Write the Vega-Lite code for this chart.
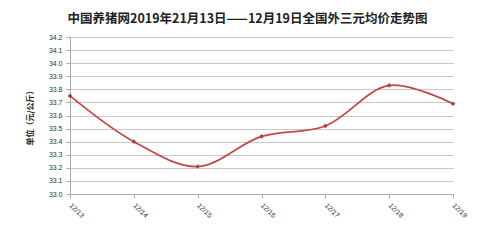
{
  "$schema": "https://vega.github.io/schema/vega-lite/v6.json",
  "autosize": {"type": "none"},
  "width": 383,
  "height": 157,
  "padding": {"left": 70, "top": 37, "right": 47, "bottom": 46},
  "background": "#ffffff",
  "title": {
    "text": "中国养猪网2019年21月13日——12月19日全国外三元均价走势图",
    "font": "Noto Sans CJK SC",
    "fontSize": 12.5,
    "fontWeight": "bold",
    "color": "#222222",
    "anchor": "middle",
    "frame": "group",
    "dx": -14,
    "offset": 8
  },
  "data": {
    "values": [
      {"date": "12/13", "price": 33.75},
      {"date": "12/14", "price": 33.40},
      {"date": "12/15", "price": 33.21},
      {"date": "12/16", "price": 33.44},
      {"date": "12/17", "price": 33.52},
      {"date": "12/18", "price": 33.83},
      {"date": "12/19", "price": 33.69}
    ]
  },
  "encoding": {
    "x": {
      "field": "date",
      "type": "ordinal",
      "scale": {"type": "point", "padding": 0},
      "axis": {
        "title": null,
        "labelAngle": 45,
        "labelAlign": "left",
        "labelBaseline": "middle",
        "labelFontSize": 7,
        "labelColor": "#333333",
        "labelFont": "Liberation Sans",
        "labelPadding": 6,
        "domainColor": "#aaaaaa",
        "tickColor": "#aaaaaa",
        "tickSize": 4,
        "grid": false
      }
    },
    "y": {
      "field": "price",
      "type": "quantitative",
      "scale": {"domain": [33, 34.2], "nice": false, "zero": false},
      "axis": {
        "title": "单位（元/公斤）",
        "titleFont": "Noto Sans CJK SC",
        "titleFontSize": 8,
        "titleFontWeight": "bold",
        "titleColor": "#222222",
        "titlePadding": 14,
        "values": [33, 33.1, 33.2, 33.3, 33.4, 33.5, 33.6, 33.7, 33.8, 33.9, 34, 34.1, 34.2],
        "labelFontSize": 7,
        "labelColor": "#333333",
        "labelFont": "Liberation Sans",
        "labelPadding": 4,
        "domainColor": "#aaaaaa",
        "tickColor": "#aaaaaa",
        "tickSize": 4,
        "gridColor": "#c8c8c8",
        "gridWidth": 1
      }
    }
  },
  "layer": [
    {
      "mark": {"type": "line", "interpolate": "catmull-rom", "color": "#be4b48", "strokeWidth": 1.8}
    },
    {
      "mark": {"type": "point", "shape": "diamond", "filled": true, "color": "#b3403d", "size": 22, "opacity": 1}
    }
  ],
  "config": {
    "view": {"stroke": null}
  }
}
